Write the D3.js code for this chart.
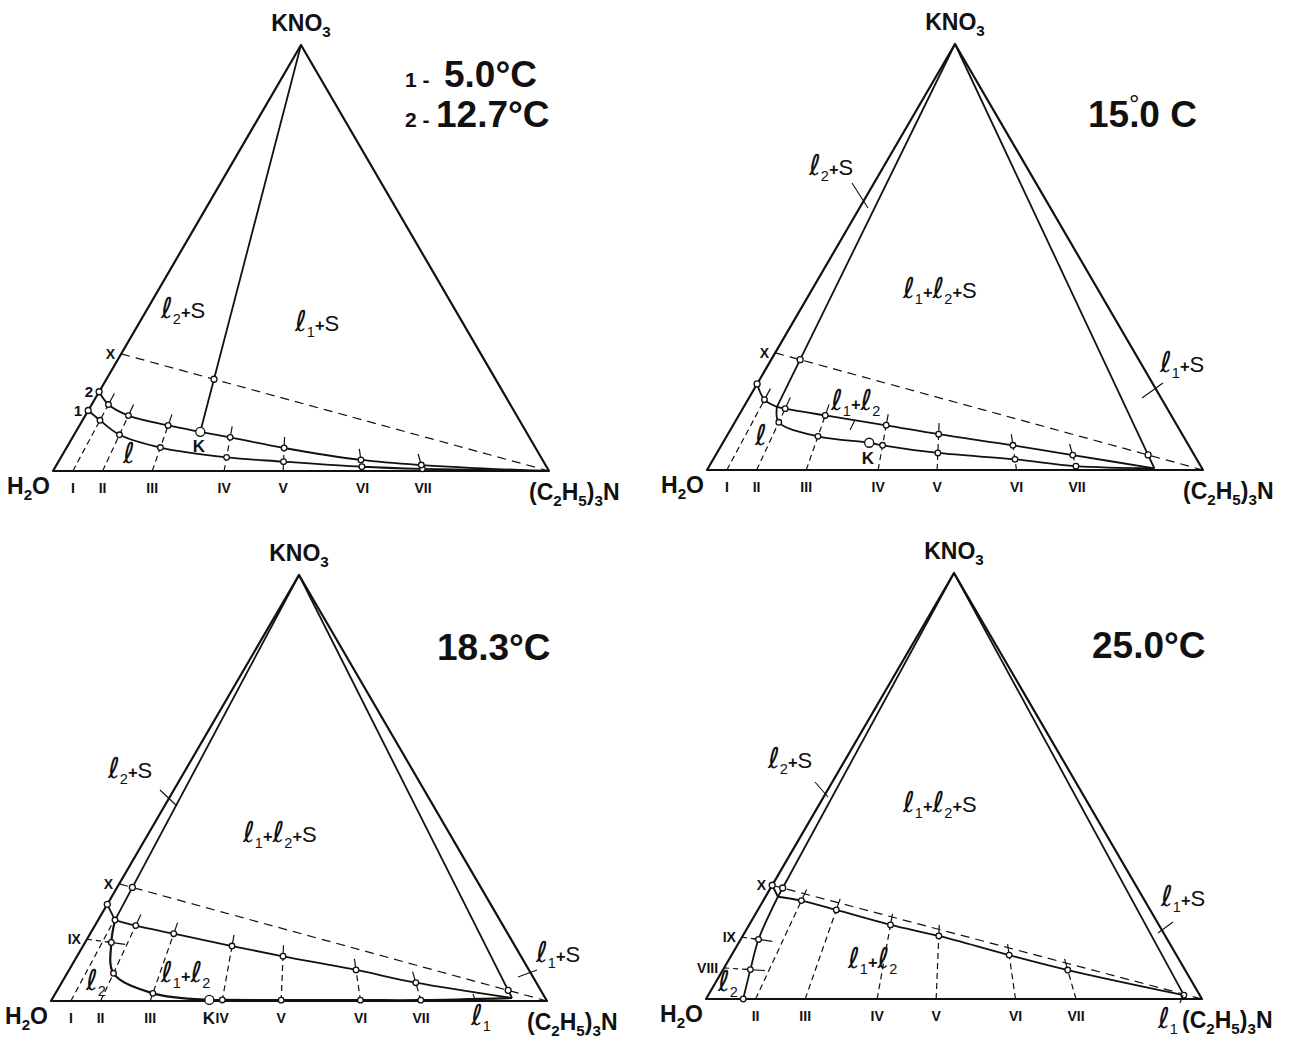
<!DOCTYPE html>
<html>
<head>
<meta charset="utf-8">
<script src="https://cdn.jsdelivr.net/npm/d3@7"></script>
<style>
  body { margin: 0; background: #fff; }
</style>
</head>
<body>
<div id="chart"></div>
<script>
// compositions are [wt% (C2H5)3N, wt% KNO3]
const sectionNames = ["I", "II", "III", "IV", "V", "VI", "VII"];
const sectionAmine = [4, 10, 20, 34.5, 46.4, 62.4, 74.6];
const sideNames = ["VIII", "IX"];
const sideKNO3 = [7.3, 14.5];
const xPointKNO3 = 27.5;

// 5.0 and 12.7 C
const t1Edge = [14.2, 18.6];
const t1Curve1 = [11.9, 8.5, 5.5, 3.2, 2.2, 1.0, 0.5];
const t1Curve2 = [15.6, 13.0, 10.7, 7.9, 5.4, 2.6, 1.4];
const t1K = [25.1, 9.2];

// 15.0 C
const t2Edge = 20.2;
const t2SecI = 16.5;
const t2Junction = [6.7, 14.8];
const t2L1 = [90, 0.4];
const t2Upper = [14.4, 12.8, 10.5, 8.4, 5.8, 3.5];
const t2Lower = [11.2, 7.9, 5.8, 4.0, 2.5, 0.9];
const t2K = [29.5, 6.4];

// 18.3 C
const t3Edge = 22.7;
const t3Junction = [3.4, 19.0];
const t3L1 = [92.6, 0.7];
const t3Upper = [17.7, 15.8, 12.9, 10.5, 7.3, 4.3];
const t3Lower = [6.5, 1.8, 0.25, 0.2, 0.2, 0.2];
const t3IX = 5.3;
const t3K = [31.8, 0.25];

// 25.0 C
const t4Edge = 26.7;
const t4Junction = [2.5, 24.0];
const t4L1 = [95.9, 0.9];
const t4Upper = [23.1, 20.9, 17.4, 14.8, 10.3, 6.8];
const t4Side = [5.5, 3.6];
const t4Base = 7.5;

const SIDE = 496, TRI_H = 426;
const origins = [[53, 471], [707, 470], [51, 1001], [706, 999]];
const INK = "#111";

const svg = d3.select("#chart").append("svg")
  .attr("width", 1291).attr("height", 1039)
  .style("font-family", "'Liberation Sans', Arial, sans-serif");

const W = [0, 0], A = [100, 0], S = [0, 100];

function makeCtx(i) {
  const [x0, y0] = origins[i];
  const xs = d3.scaleLinear().domain([0, 100]).range([x0, x0 + SIDE]);
  const ys = d3.scaleLinear().domain([0, 100]).range([y0, y0 - TRI_H]);
  const g = svg.append("g");
  return { g, x0, y0, proj: (a, k) => [xs(a + k / 2), ys(k)] };
}

function path(ctx, comps, opts = {}) {
  const line = d3.line().curve(opts.curve || d3.curveCatmullRom.alpha(0.5));
  ctx.g.append("path")
    .attr("d", line(comps.map((c) => ctx.proj(c[0], c[1]))))
    .attr("fill", "none")
    .attr("stroke", INK)
    .attr("stroke-width", opts.w || 1.8)
    .attr("stroke-linejoin", "round")
    .attr("stroke-dasharray", opts.dash || null);
}
const straight = (ctx, comps, w = 1.8) => path(ctx, comps, { w, curve: d3.curveLinear });

function dot(ctx, c, r = 3) {
  const [x, y] = ctx.proj(c[0], c[1]);
  ctx.g.append("circle").attr("cx", x).attr("cy", y).attr("r", r)
    .attr("fill", "#fff").attr("stroke", INK).attr("stroke-width", 1.3);
}

const secPt = (i, k) => [sectionAmine[i] * (1 - k / 100), k];
const sidePt = (j, a) => [a, sideKNO3[j] * (1 - a / 100)];

function section(ctx, i, kTop, tick = true) {
  path(ctx, [[sectionAmine[i], 0], secPt(i, kTop)], { w: 1.2, dash: "6,4", curve: d3.curveLinear });
  if (tick) straight(ctx, [secPt(i, kTop - 0.8), secPt(i, kTop + 2.6)], 1.2);
}
function sideSection(ctx, j, a) {
  path(ctx, [[0, sideKNO3[j]], sidePt(j, a)], { w: 1.2, dash: "5,4", curve: d3.curveLinear });
  straight(ctx, [sidePt(j, a - 1), sidePt(j, a + 3)], 1.2);
  dot(ctx, sidePt(j, a), 2.8);
}

function cross(p1, p2, p3, p4) {
  const d = (p1[0] - p2[0]) * (p3[1] - p4[1]) - (p1[1] - p2[1]) * (p3[0] - p4[0]);
  const t = ((p1[0] - p3[0]) * (p3[1] - p4[1]) - (p1[1] - p3[1]) * (p3[0] - p4[0])) / d;
  return [p1[0] + t * (p2[0] - p1[0]), p1[1] + t * (p2[1] - p1[1])];
}

// text with subscripts and script l
function rich(g, x, y, parts, size, anchor = "start", weight = "normal") {
  const t = g.append("text").attr("x", x).attr("y", y)
    .attr("font-size", size).attr("text-anchor", anchor)
    .attr("font-weight", weight).attr("fill", INK);
  let shift = 0;
  parts.forEach(([s, kind]) => {
    const ts = t.append("tspan").text(s);
    const target = kind === "sub" ? size * 0.28 : 0;
    if (target !== shift) { ts.attr("dy", target - shift); shift = target; }
    if (kind === "sub") ts.attr("font-size", size * 0.66);
    if (kind === "l") ts.attr("font-family", "'DejaVu Sans'").attr("font-style", "italic")
      .attr("font-size", size * 1.3);
    if (kind === "plus") ts.attr("font-size", size * 0.75).attr("font-weight", "bold");
  });
  return t;
}
const phase = (n) => [["\u2113", "l"], [String(n), "sub"]];
const L2S = [...phase(2), ["+", "plus"], ["S", ""]];
const L1S = [...phase(1), ["+", "plus"], ["S", ""]];
const L1L2 = [...phase(1), ["+", "plus"], ...phase(2)];
const L1L2S = [...L1L2, ["+", "plus"], ["S", ""]];

function frame(ctx, names) {
  const apex = ctx.proj(...S), right = ctx.proj(...A);
  path(ctx, [W, A, S, W], { w: 2.2, curve: d3.curveLinearClosed });
  rich(ctx.g, apex[0], apex[1] - 14, [["KNO", ""], ["3", "sub"]], 23, "middle", "bold");
  rich(ctx.g, ctx.x0 - 3, ctx.y0 + 23, [["H", ""], ["2", "sub"], ["O", ""]], 23, "end", "bold");
  rich(ctx.g, right[0] - 20, ctx.y0 + 29,
    [["(C", ""], ["2", "sub"], ["H", ""], ["5", "sub"], [")", ""], ["3", "sub"], ["N", ""]], 23, "start", "bold");
  names.forEach((n) => {
    const i = sectionNames.indexOf(n);
    ctx.g.append("text").attr("x", ctx.proj(sectionAmine[i], 0)[0]).attr("y", ctx.y0 + 22)
      .attr("text-anchor", "middle").attr("font-size", 14).attr("font-weight", "bold")
      .attr("fill", INK).text(n);
  });
}
function sideLabel(ctx, text, k, size = 14) {
  const [x, y] = ctx.proj(0, k);
  ctx.g.append("text").attr("x", x - 6).attr("y", y + 5).attr("text-anchor", "end")
    .attr("font-size", size).attr("font-weight", "bold").attr("fill", INK).text(text);
}
function note(ctx, dx, dy, parts, size = 22) {
  return rich(ctx.g, ctx.x0 + dx, ctx.y0 + dy, parts, size);
}
function plain(ctx, dx, dy, text, size, anchor = "middle") {
  ctx.g.append("text").attr("x", ctx.x0 + dx).attr("y", ctx.y0 + dy).attr("text-anchor", anchor)
    .attr("font-size", size).attr("font-weight", "bold").attr("fill", INK).text(text);
}
function leader(ctx, a, b) {
  ctx.g.append("line").attr("x1", ctx.x0 + a[0]).attr("y1", ctx.y0 + a[1])
    .attr("x2", ctx.x0 + b[0]).attr("y2", ctx.y0 + b[1])
    .attr("stroke", INK).attr("stroke-width", 1.1);
}
function temp(g, x, y, text, size) {
  g.append("text").attr("x", x).attr("y", y).attr("font-size", size)
    .attr("font-weight", "bold").attr("fill", INK).text(text);
}
const X = [0, xPointKNO3];

// ---------- panel 1 : 5.0 / 12.7 C ----------
{
  const c = makeCtx(0);
  frame(c, sectionNames);
  straight(c, [S, t1K]);
  path(c, [X, A], { w: 1.2, dash: "9,6", curve: d3.curveLinear });
  const c2 = t1Curve2.map((k, i) => secPt(i, k)).concat([t1K]).sort((p, q) => p[0] - q[0]);
  path(c, [[0, t1Edge[1]], ...c2, [96, 0.15], A]);
  path(c, [[0, t1Edge[0]], ...t1Curve1.map((k, i) => secPt(i, k)), [96, 0.1], A]);
  sectionNames.forEach((n, i) => {
    section(c, i, t1Curve2[i]);
    dot(c, secPt(i, t1Curve1[i]), 2.8);
    dot(c, secPt(i, t1Curve2[i]), 2.8);
  });
  dot(c, [0, t1Edge[0]]); dot(c, [0, t1Edge[1]]);
  dot(c, cross(X, A, S, t1K));
  dot(c, t1K, 4.5);
  sideLabel(c, "X", xPointKNO3, 14);
  sideLabel(c, "2", t1Edge[1], 15);
  sideLabel(c, "1", t1Edge[0], 15);
  plain(c, 146, -19, "K", 17);
  note(c, 70, -8, [["\u2113", "l"]], 22);
  note(c, 108, -153, L2S);
  note(c, 242, -140, L1S);
  temp(c.g, 405, 87, "1 -", 21);
  temp(c.g, 444, 87, "5.0\u00B0C", 37);
  temp(c.g, 405, 127, "2 -", 21);
  temp(c.g, 436, 127, "12.7\u00B0C", 37);
}

// ---------- panel 2 : 15.0 C ----------
{
  const c = makeCtx(1);
  frame(c, sectionNames);
  straight(c, [S, t2Junction]);
  straight(c, [S, t2L1]);
  path(c, [X, A], { w: 1.2, dash: "9,6", curve: d3.curveLinear });
  path(c, [[0, t2Edge], secPt(0, t2SecI), t2Junction]);
  const low = t2Lower.map((k, i) => secPt(i + 1, k)).concat([t2K]).sort((p, q) => p[0] - q[0]);
  path(c, [t2Junction, ...low, t2L1]);
  path(c, [t2Junction, ...t2Upper.map((k, i) => secPt(i + 1, k)), t2L1]);
  section(c, 0, t2SecI);
  dot(c, secPt(0, t2SecI), 2.8);
  t2Upper.forEach((k, i) => {
    section(c, i + 1, k);
    dot(c, secPt(i + 1, k), 2.8);
    dot(c, secPt(i + 1, t2Lower[i]), 2.8);
  });
  dot(c, [0, t2Edge]);
  dot(c, cross(X, A, S, t2Junction));
  dot(c, cross(X, A, S, t2L1));
  dot(c, t2K, 4.5);
  sideLabel(c, "X", xPointKNO3, 14);
  plain(c, 161, -6, "K", 17);
  note(c, 48, -25, [["\u2113", "l"]], 22);
  note(c, 124, -60, L1L2);
  note(c, 102, -295, L2S);
  note(c, 196, -172, L1L2S);
  note(c, 453, -98, L1S);
  leader(c, [145, -287], [161, -262]);
  leader(c, [435, -72], [456, -87]);
  leader(c, [143, -40], [148, -50]);
  // the degree ring sits over the decimal point
  c.g.append("text").attr("x", 1088).attr("y", 127).attr("font-size", 37)
    .attr("font-weight", "bold").attr("fill", INK)
    .call((t) => {
      t.append("tspan").text("15.");
      t.append("tspan").text("\u00B0").attr("font-size", 26).attr("font-weight", "normal")
        .attr("dx", -10.5).attr("dy", -14);
      t.append("tspan").text("0 C").attr("dx", 0).attr("dy", 14);
    });
}

// ---------- panel 3 : 18.3 C ----------
{
  const c = makeCtx(2);
  frame(c, sectionNames);
  straight(c, [S, t3Junction]);
  straight(c, [S, t3L1]);
  path(c, [X, A], { w: 1.2, dash: "9,6", curve: d3.curveLinear });
  straight(c, [[0, t3Edge], t3Junction]);
  path(c, [t3Junction, ...t3Upper.map((k, i) => secPt(i + 1, k)), t3L1]);
  const low = [sidePt(1, t3IX), ...t3Lower.map((k, i) => secPt(i + 1, k)), t3K].sort((p, q) => p[0] - q[0]);
  path(c, [t3Junction, ...low, t3L1], { w: 2.2 });
  section(c, 0, t3Junction[1], false);
  t3Upper.forEach((k, i) => {
    section(c, i + 1, k);
    dot(c, secPt(i + 1, k), 2.8);
    dot(c, secPt(i + 1, t3Lower[i]), 2.8);
  });
  sideSection(c, 1, t3IX);
  dot(c, [0, t3Edge]);
  dot(c, t3Junction, 2.8);
  dot(c, cross(X, A, S, t3Junction));
  dot(c, cross(X, A, S, t3L1));
  dot(c, t3K, 4.5);
  sideLabel(c, "X", xPointKNO3, 14);
  sideLabel(c, "IX", sideKNO3[1], 14);
  plain(c, 158, 23, "K", 17);
  note(c, 35, -11, phase(2), 22);
  note(c, 110, -19, L1L2);
  note(c, 57, -223, L2S);
  note(c, 192, -159, L1L2S);
  note(c, 485, -39, L1S);
  note(c, 420, 24, phase(1), 22);
  leader(c, [109, -211], [126, -195]);
  leader(c, [467, -24], [486, -31]);
  leader(c, [422, -7], [425, 1]);
  temp(c.g, 437, 660, "18.3\u00B0C", 37);
}

// ---------- panel 4 : 25.0 C ----------
{
  const c = makeCtx(3);
  frame(c, sectionNames.slice(1));
  const X4 = [0, t4Edge];
  straight(c, [S, t4Junction]);
  straight(c, [S, t4L1]);
  path(c, [X4, A], { w: 1.2, dash: "9,6", curve: d3.curveLinear });
  straight(c, [X4, t4Junction]);
  path(c, [t4Junction, sidePt(1, t4Side[1]), sidePt(0, t4Side[0]), [t4Base, 0]]);
  path(c, [t4Junction, ...t4Upper.map((k, i) => secPt(i + 1, k)), t4L1]);
  t4Upper.forEach((k, i) => {
    section(c, i + 1, k);
    dot(c, secPt(i + 1, k), 2.8);
  });
  sideSection(c, 0, t4Side[0]);
  sideSection(c, 1, t4Side[1]);
  dot(c, X4);
  dot(c, cross(X4, A, S, t4Junction));
  dot(c, [t4Base, 0], 2.8);
  dot(c, t4L1, 2.8);
  sideLabel(c, "X", t4Edge, 14);
  sideLabel(c, "IX", sideKNO3[1], 14);
  sideLabel(c, "VIII", sideKNO3[0], 14);
  note(c, 12, -8, phase(2), 22);
  note(c, 142, -31, L1L2);
  note(c, 62, -231, L2S);
  note(c, 197, -187, L1L2S);
  note(c, 455, -93, L1S);
  note(c, 452, 29, phase(1), 22);
  leader(c, [109, -217], [122, -202]);
  leader(c, [452, -66], [467, -77]);
  leader(c, [474, 4], [477, -4]);
  temp(c.g, 1092, 658, "25.0\u00B0C", 37);
}
</script>
</body>
</html>
